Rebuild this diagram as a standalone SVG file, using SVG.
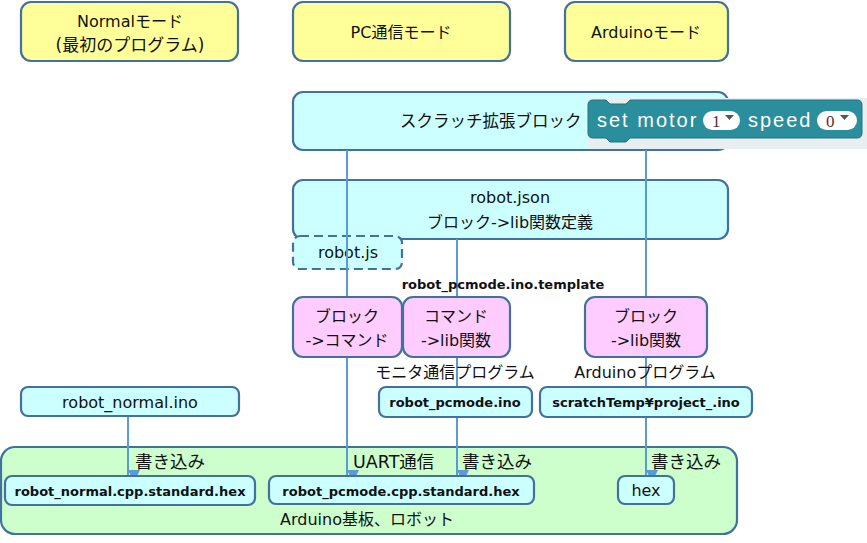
<svg xmlns="http://www.w3.org/2000/svg" width="867" height="543" viewBox="0 0 867 543">
<defs>
<style>
.bx{stroke:#41719c;stroke-width:2.2}
.y{fill:#ffff99}.c{fill:#ccffff}.p{fill:#ffccff}.g{fill:#ccffcc}
text{font-family:"DejaVu Sans","Noto Sans CJK JP",sans-serif;fill:#111;text-anchor:middle}
.t{font-size:16px}
.s{font-size:16px}
.w{font-size:17.5px}
.b{font-size:13px;font-weight:bold}
.ln{stroke:#5b9bd5;stroke-width:2;fill:none}
.sc{font-family:"Liberation Sans",Arial,sans-serif;font-size:20px;letter-spacing:2px;fill:#fff;text-anchor:start}
.dd{font-family:"Liberation Serif",serif;font-size:17px;fill:#5a3030;text-anchor:start}
</style>
<marker id="ah" viewBox="0 0 12 12" refX="6" refY="12" markerWidth="12" markerHeight="12" markerUnits="userSpaceOnUse" orient="auto-start-reverse">
<path d="M0,0 L12,0 L6,12 Z" fill="#5b9bd5" transform="rotate(-90 6 6)"/>
</marker>
</defs>
<rect width="867" height="543" fill="#fff"/>

<g id="board">
<rect class="bx g" x="1" y="447" width="736" height="87" rx="14"/>
<text class="t" x="280" y="525" style="text-anchor:start">Arduino基板、ロボット</text>
</g>

<g id="normal-mode"><rect class="bx y" x="21" y="2" width="217" height="59" rx="10"/>
<text class="t" x="130" y="27">Normalモード</text><text class="t" x="130" y="51" style="font-size:17px">(最初のプログラム)</text></g>
<g id="pc-mode"><rect class="bx y" x="293" y="2" width="217" height="59" rx="10"/>
<text class="t" x="401" y="38">PC通信モード</text></g>
<g id="arduino-mode"><rect class="bx y" x="565" y="2" width="163" height="59" rx="10"/>
<text class="t" x="646" y="38">Arduinoモード</text></g>

<g id="scratch-ext"><rect class="bx c" x="293" y="92" width="435" height="58" rx="10"/>
<text class="t" x="400" y="127" style="text-anchor:start;font-size:16.5px">スクラッチ拡張ブロック</text></g>

<g id="robot-json"><rect class="bx c" x="293" y="180" width="435" height="59" rx="10"/>
<text class="t" x="510" y="203">robot.json</text><text class="t" x="510" y="228">ブロック-&gt;lib関数定義</text></g>

<g id="robot-js"><rect class="bx c" x="293" y="236" width="109" height="33" rx="7" stroke-dasharray="9,5"/>
<text class="t" x="348" y="258">robot.js</text></g>

<g id="connectors">
<line class="ln" x1="347" y1="150" x2="347" y2="476" marker-end="url(#ah)"/>
<line class="ln" x1="457" y1="239" x2="457" y2="476" marker-end="url(#ah)"/>
<line class="ln" x1="646" y1="150" x2="646" y2="476" marker-end="url(#ah)"/>
<line class="ln" x1="128" y1="416" x2="128" y2="476" marker-end="url(#ah)"/>
</g>

<g id="template-label"><text class="b" x="503" y="289">robot_pcmode.ino.template</text></g>

<g id="block-command"><rect class="bx p" x="293" y="297" width="109" height="60" rx="10"/>
<text class="t" x="347" y="322">ブロック</text><text class="t" x="347" y="346">-&gt;コマンド</text></g>
<g id="command-lib"><rect class="bx p" x="403" y="297" width="107" height="60" rx="10"/>
<text class="t" x="456" y="322">コマンド</text><text class="t" x="456" y="346">-&gt;lib関数</text></g>
<g id="block-lib"><rect class="bx p" x="585" y="297" width="122" height="60" rx="10"/>
<text class="t" x="646" y="322">ブロック</text><text class="t" x="646" y="346">-&gt;lib関数</text></g>

<g id="labels">
<text class="s" x="455" y="378">モニタ通信プログラム</text>
<text class="s" x="645" y="378">Arduinoプログラム</text>
<text class="w" x="135" y="468" style="text-anchor:start">書き込み</text>
<text class="w" x="353" y="468" style="text-anchor:start">UART通信</text>
<text class="w" x="462" y="468" style="text-anchor:start">書き込み</text>
<text class="w" x="651" y="468" style="text-anchor:start">書き込み</text>
</g>

<g id="robot-normal-ino"><rect class="bx c" x="21" y="387" width="218" height="29" rx="7"/>
<text class="s" x="130" y="408">robot_normal.ino</text></g>
<g id="robot-pcmode-ino"><rect class="bx c" x="379" y="387" width="153" height="30" rx="7"/>
<text class="b" x="455" y="407">robot_pcmode.ino</text></g>
<g id="scratch-temp-ino"><rect class="bx c" x="540" y="387" width="212" height="30" rx="7"/>
<text class="b" x="646" y="407">scratchTemp¥project_.ino</text></g>

<g id="normal-hex"><rect class="bx c" x="5" y="476" width="250" height="29" rx="7"/>
<text class="b" x="130" y="496">robot_normal.cpp.standard.hex</text></g>
<g id="pcmode-hex"><rect class="bx c" x="269" y="476" width="265" height="28" rx="7"/>
<text class="b" x="401" y="496">robot_pcmode.cpp.standard.hex</text></g>
<g id="hex"><rect class="bx c" x="618" y="476" width="56" height="28" rx="7"/>
<text class="s" x="646" y="496">hex</text></g>

<g id="scratch-block">
<rect x="588" y="98" width="279" height="51" fill="#e9eef1"/>
<path d="M593,100 H606 L610,104 H626 L630,100 H857 Q862,100 862,105 V133 Q862,138 857,138 H630 L626,142 H610 L606,138 H593 Q588,138 588,133 V105 Q588,100 593,100 Z" fill="#2b8e9d" stroke="#1f7584" stroke-width="1"/>
<text class="sc" x="597" y="127">set motor</text>
<rect x="703" y="111" width="37" height="19" rx="9.5" fill="#fff"/>
<text class="dd" x="712" y="127">1</text>
<polygon points="725,115 734,115 729.5,120" fill="#555"/>
<text class="sc" x="748" y="127">speed</text>
<rect x="817" y="111" width="40" height="19" rx="9.5" fill="#fff"/>
<text class="dd" x="826" y="127">0</text>
<polygon points="840,115 849,115 844.5,120" fill="#555"/>
</g>
</svg>
